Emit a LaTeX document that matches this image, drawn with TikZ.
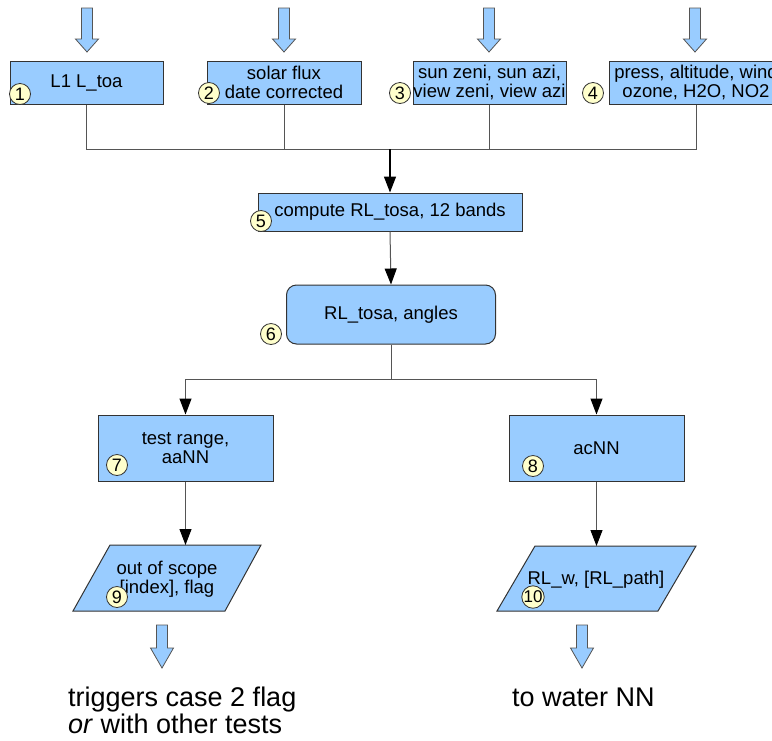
\documentclass[tikz,border=0pt]{standalone}
\usepackage{fontspec}
\setmainfont{Liberation Sans}
\usetikzlibrary{arrows.meta}
\definecolor{boxblue}{HTML}{99CCFF}
\definecolor{numyellow}{HTML}{FFFFCC}
\definecolor{edgegray}{HTML}{333333}
\definecolor{linegray}{HTML}{555555}
\newcommand\boxfont{\fontsize{18.5}{19.5}\selectfont}
\newcommand\numfont{\fontsize{18}{18}\selectfont}
\newcommand\bigfont{\fontsize{27}{27}\selectfont}
\newcommand\blockarrow[4]{\draw[blockarrow] (#1-5.5,#2) -- (#1+5.5,#2) -- (#1+5.5,#3) -- (#1+11.5,#3) -- (#1,#4) -- (#1-11.5,#3) -- (#1-5.5,#3) -- cycle;}
\begin{document}
\begin{tikzpicture}[x=1pt,y=-1pt,
 flowbox/.style={draw=edgegray, fill=boxblue, line width=1pt, inner sep=0pt, align=center, font=\boxfont},
 numcirc/.style={circle, draw=edgegray, fill=numyellow, line width=0.8pt, minimum size=21pt, inner sep=0pt, font=\numfont},
 conn/.style={draw=linegray, line width=1pt},
 arr/.style={conn, -{Triangle[width=12pt,length=16pt,color=black]}},
 blockarrow/.style={draw=linegray, fill=boxblue, line width=0.8pt, line join=miter},
 paragram/.style={draw=edgegray, fill=boxblue, line width=1pt},
 bottomtext/.style={font=\bigfont, inner sep=0pt, anchor=base west}
]
\clip (0,0) rectangle (772,740);
\fill[white] (0,0) rectangle (772,740);

% input block arrows
\blockarrow{87}{8}{39}{52}
\blockarrow{284}{8}{39}{52}
\blockarrow{489}{8}{39}{52}
\blockarrow{695}{8}{39}{52}

% input boxes
\node[flowbox, minimum width=153pt, minimum height=43pt] (b1) at (86.5,82.5) {L1 L\_toa};
\node[flowbox, minimum width=154pt, minimum height=43pt] (b2) at (284,82.5) {solar flux\\date corrected};
\node[flowbox, minimum width=153pt, minimum height=43pt] (b3) at (489.5,82.5) {sun zeni, sun azi,\\view zeni, view azi};
\node[flowbox, minimum width=174pt, minimum height=43pt] (b4) at (696,82.5) {press, altitude, wind\\ozone, H2O, NO2};

% merge
\coordinate (j1) at (390,149);
\draw[conn] (b1.south) |- (j1);
\draw[conn] (b2.south) |- (j1);
\draw[conn] (b3.south) |- (j1);
\draw[conn] (b4.south) |- (j1);

\node[flowbox, minimum width=264pt, minimum height=38pt] (b5) at (390,212) {compute RL\_tosa, 12 bands};
\draw[arr, draw=black, line width=1.4pt] (j1) -- (b5.north);

\node[flowbox, rounded corners=10pt, minimum width=209pt, minimum height=59pt] (b6) at (391,314.5) {RL\_tosa, angles};
\draw[arr] (b5.south) -- (b6.north);

% split
\coordinate (j2) at (391,379);
\node[flowbox, minimum width=175pt, minimum height=66pt] (b7) at (185.5,448) {test range,\\aaNN};
\node[flowbox, minimum width=175pt, minimum height=66pt] (b8) at (596.5,448) {acNN};
\draw[conn] (b6.south) -- (j2);
\draw[arr] (j2) -| (b7.north);
\draw[arr] (j2) -| (b8.north);

% outputs (parallelograms)
\draw[paragram] (110,545) -- (261,545) -- (225,611) -- (73,611) -- cycle;
\coordinate (p9) at (185.5,545);
\node[align=center, font=\boxfont, inner sep=0pt] (t9) at (167,579) {out of scope\\{[index], flag}};
\draw[paragram] (535,546) -- (696,546) -- (658,611) -- (497,611) -- cycle;
\coordinate (p10) at (596.5,546);
\node[font=\boxfont, inner sep=0pt] (t10) at (596,580) {RL\_w, [RL\_path]};
\draw[arr] (b7.south) -- (p9);
\draw[arr] (b8.south) -- (p10);

% numbered circles
\node[numcirc] (c1) at (20,94) {1};
\node[numcirc] (c2) at (209,93) {2};
\node[numcirc] (c3) at (400,93) {3};
\node[numcirc] (c4) at (593,93) {4};
\node[numcirc] (c5) at (261,221) {5};
\node[numcirc] (c6) at (271,334) {6};
\node[numcirc] (c7) at (117,465) {7};
\node[numcirc] (c8) at (533,466) {8};
\node[numcirc] (c9) at (117,597) {9};
\node[numcirc, font=\fontsize{17}{17}\selectfont] (c10) at (533,597) {10};

% output block arrows
\blockarrow{162}{625}{648}{668}
\blockarrow{582}{625}{648}{668}

% bottom texts
\node[bottomtext] (o1) at (68,706) {triggers case 2 flag};
\node[bottomtext] (o2) at (68,733) {\textit{or} with other tests};
\node[bottomtext] (o3) at (512,706) {to water NN};
\end{tikzpicture}
\end{document}
